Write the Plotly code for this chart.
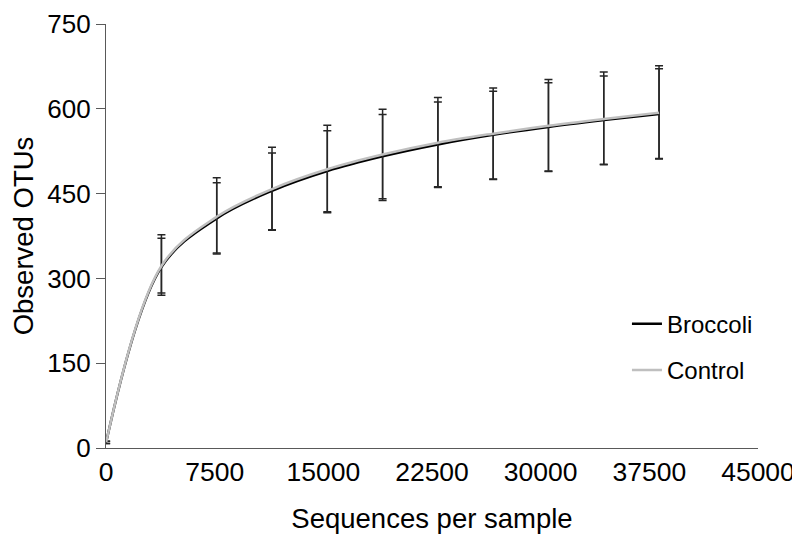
import plotly.graph_objects as go

# rarefaction depths (sequences per sample)
depth = [10, 3826, 7642, 11458, 15274, 19090, 22906, 26722, 30538, 34354, 38170]

broccoli_mean = [10, 320, 406, 455, 490, 516, 537, 554, 568, 580, 591]
broccoli_hi = [12, 377, 478, 532, 571, 599, 620, 637, 652, 665, 676]
broccoli_lo = [8, 270, 343, 385, 416, 438, 461, 475, 489, 501, 511]

control_mean = [10, 322, 409, 458, 493, 519, 540, 556, 570, 582, 593]
control_hi = [12, 371, 469, 522, 561, 590, 612, 631, 646, 658, 671]
control_lo = [8, 274, 345, 386, 418, 441, 462, 476, 490, 502, 512]

x_ticks = [0, 7500, 15000, 22500, 30000, 37500, 45000]
y_ticks = [0, 150, 300, 450, 600, 750]

FONT = "Liberation Sans, Arial, sans-serif"
AXIS_COLOR = "#595959"


def add_series(fig, name, mean, hi, lo, color, group):
    fig.add_trace(go.Scatter(
        x=depth,
        y=mean,
        name=name,
        mode="lines",
        line=dict(color=color, width=2.5, shape="spline", smoothing=1),
        legendgroup=group,
        error_y=dict(
            type="data",
            symmetric=False,
            array=[h - m for h, m in zip(hi, mean)],
            arrayminus=[m - l for m, l in zip(mean, lo)],
            color="#262626",
            thickness=1.5,
            width=4,
        ),
    ))


fig = go.Figure()
add_series(fig, "Broccoli", broccoli_mean, broccoli_hi, broccoli_lo, "#000000", "a")
add_series(fig, "Control", control_mean, control_hi, control_lo, "#BFBFBF", "b")

# the page body adds an 8px offset, so margins are trimmed on the left/top
fig.update_layout(
    width=800,
    height=540,
    margin=dict(l=98, r=50, t=16, b=100),
    plot_bgcolor="white",
    paper_bgcolor="white",
    font=dict(family=FONT, size=25, color="#000000"),
    showlegend=True,
    legend=dict(
        x=0.799, y=0.345, xanchor="left", yanchor="top",
        font=dict(size=24),
        bgcolor="rgba(0,0,0,0)",
        traceorder="grouped",
        tracegroupgap=12,
        itemwidth=30,
    ),
)
fig.update_xaxes(
    range=[0, 45000],
    tickvals=x_ticks,
    ticktext=[str(v) for v in x_ticks],
    showgrid=False,
    zeroline=False,
    showline=True,
    linecolor=AXIS_COLOR,
    linewidth=1.2,
    ticks="",
    automargin=False,
    ticklabeloverflow="allow",
    tickfont=dict(size=26.5),
    title=dict(text="Sequences per sample", font=dict(size=27.5), standoff=22),
)
fig.update_yaxes(
    range=[0, 750],
    tickvals=y_ticks,
    ticktext=[str(v) for v in y_ticks],
    showgrid=False,
    zeroline=False,
    showline=True,
    linecolor=AXIS_COLOR,
    linewidth=1.2,
    ticks="outside",
    ticklen=9,
    tickcolor=AXIS_COLOR,
    automargin=False,
    ticklabeloverflow="allow",
    tickfont=dict(size=26),
    title=dict(text="Observed OTUs", font=dict(size=27.5), standoff=10),
)

fig.write_html("out.html")
